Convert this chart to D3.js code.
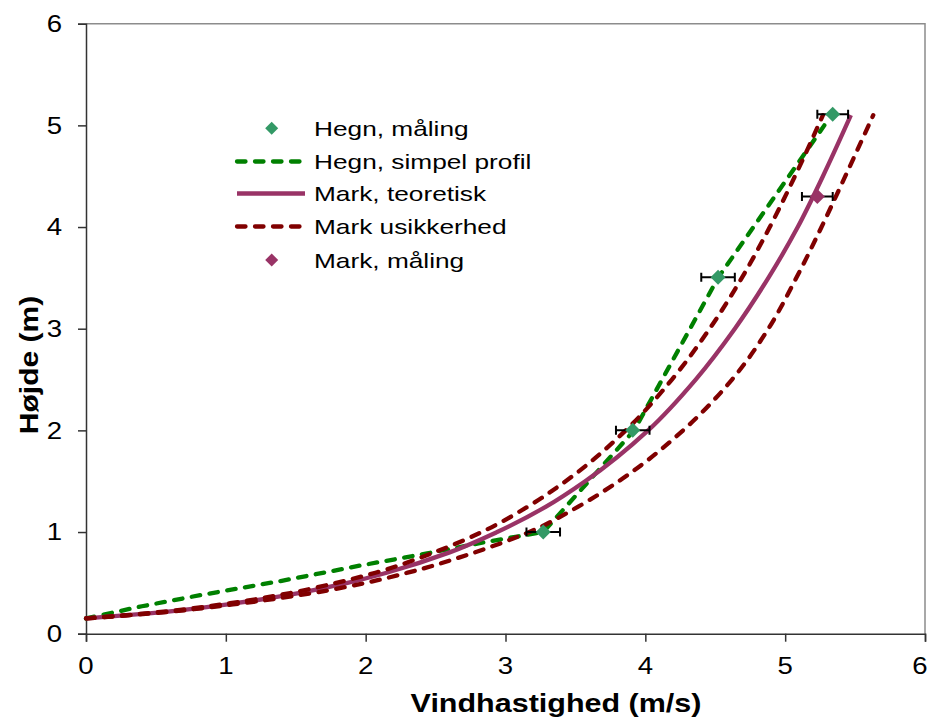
<!DOCTYPE html>
<html><head><meta charset="utf-8">
<script src="https://cdn.jsdelivr.net/npm/d3@7/dist/d3.min.js"></script>
<style>body{margin:0;background:#fff;} svg{display:block;font-family:"Liberation Sans",Arial,sans-serif;}</style>
</head><body>
<svg id="c" width="931" height="718"></svg>
<script>
// ---- data ----
const xTicks = [0,1,2,3,4,5,6];
const yTicks = [0,1,2,3,4,5,6];
// Hegn measurements
const hegnU = [3.27, 3.91, 4.52, 5.34];
const hegnZ = [1.0, 2.0, 3.505, 5.11];
const hegnErr = [0.12, 0.12, 0.12, 0.11];
// Mark measurement
const markU = [5.23];
const markZ = [4.30];
const markErr = [0.11];
// Hegn simple profile
const profZ = [0.15,0.27,0.38,0.52,0.67,0.79,0.905,1.0,2.0,3.5,5.0];
const profU = [0,0.40,0.82,1.40,1.96,2.44,2.87,3.27,3.92,4.52,5.28];
// Mark theoretical and uncertainty band
const modelZ  = [0.15,0.2,0.3,0.4,0.5,0.6,0.8,1.0,1.25,1.5,2.0,2.5,3.0,3.5,4.0,4.5,5.1];
const theoU   = [0,0.45,1.07,1.52,1.87,2.15,2.60,2.94,3.29,3.57,4.02,4.36,4.64,4.88,5.09,5.27,5.47];
const upperU  = [0,0.43,1.03,1.46,1.79,2.07,2.49,2.83,3.16,3.43,3.86,4.19,4.46,4.69,4.89,5.07,5.27];
const lowerU  = [0,0.47,1.12,1.62,2.00,2.30,2.78,3.17,3.52,3.81,4.27,4.62,4.88,5.08,5.26,5.43,5.63];
const legendLabels = ["Hegn, måling","Hegn, simpel profil","Mark, teoretisk","Mark usikkerhed","Mark, måling"];

const C = {green:"#008000", hegnPt:"#339966", purple:"#993366", red:"#800000"};
const svg = d3.select("#c");
const L=86, R=925, T=23.7, B=633.7;
const x = d3.scaleLinear().domain([0,6]).range([L,R]);
const y = d3.scaleLinear().domain([0,6]).range([B,T]);

function txt(g, s, px, py, size, anchor, bold, rot, sx){
  const t = g.append("text").text(s)
    .attr("transform", `translate(${px},${py})` + (rot?` rotate(${rot})`:"") + ` scale(${sx||1.2},1)`)
    .attr("font-size", size).attr("text-anchor", anchor||"start").attr("fill","#000");
  if(bold) t.attr("font-weight","bold");
  return t;
}

// plot border (top/right)
svg.append("path").attr("d",`M${L},${T}H${R}V${B}`).attr("fill","none").attr("stroke","#8c8c8c").attr("stroke-width",1.5);

// axes
const gx = svg.append("g").attr("transform",`translate(0,${B})`)
  .call(d3.axisBottom(x).tickValues(xTicks).tickSize(8).tickFormat(""));
const gy = svg.append("g").attr("transform",`translate(${L},0)`)
  .call(d3.axisLeft(y).tickValues(yTicks).tickSize(8).tickFormat(""));
[gx,gy].forEach(g=>{g.select(".domain").attr("stroke","#333").attr("stroke-width",1.5);
  g.selectAll(".tick line").attr("stroke","#333").attr("stroke-width",1.5);});
xTicks.forEach(v=>txt(svg, d3.format("d")(v), Math.min(x(v), 920), 674, 23, "middle"));
yTicks.forEach(v=>txt(svg, d3.format("d")(v), 62, y(v)+8.3, 23, "end"));

txt(svg, "Vindhastighed (m/s)", 556, 712, 25, "middle", true, 0, 1.22);
txt(svg, "Højde (m)", 38, 365, 25, "middle", true, -90);

// lines
const lines = svg.append("g");
function curve(us, zs, color, dashed, ctype){
  const pts = us.map((u,i)=>[u,zs[i]]);
  const line = d3.line().x(d=>x(d[0])).y(d=>y(d[1])).curve(ctype||d3.curveMonotoneY);
  const p = lines.append("path").attr("d",line(pts)).attr("fill","none").attr("stroke",color)
    .attr("stroke-width", 4.3);
  if(dashed) p.attr("stroke-dasharray","8.5,9.5").attr("stroke-linecap","round");
  return p;
}
curve(profU, profZ, C.green, true, d3.curveLinear);
curve(theoU, modelZ, C.purple, false);
curve(upperU, modelZ, C.red, true);
curve(lowerU, modelZ, C.red, true);

const diamond = r=>`M0,${-r}L${r},0L0,${r}L${-r},0Z`;
function points(us, zs, errs, color){
  const g = svg.append("g");
  us.forEach((u,i)=>{
    const cy=y(zs[i]), x0=x(u-errs[i]), x1=x(u+errs[i]);
    g.append("path").attr("d",`M${x0},${cy}H${x1}M${x0},${cy-4.5}V${cy+4.5}M${x1},${cy-4.5}V${cy+4.5}`)
      .attr("stroke","#000").attr("stroke-width",2).attr("fill","none");
  });
  us.forEach((u,i)=>{
    g.append("path").attr("d",diamond(7.5)).attr("transform",`translate(${x(u)},${y(zs[i])})`).attr("fill",color);
  });
}
points(hegnU, hegnZ, hegnErr, C.hegnPt);
points(markU, markZ, markErr, C.purple);

// legend
const lg = svg.append("g");
const ly = [128.3, 161.5, 193.5, 226.5, 260];
const types = ["pt","dash","solid","dash","pt"];
const cols = [C.hegnPt, C.green, C.purple, C.red, C.purple];
legendLabels.forEach((s,i)=>{
  if(types[i]==="pt"){
    lg.append("path").attr("d",diamond(6.5)).attr("transform",`translate(271.7,${ly[i]})`).attr("fill",cols[i]);
  } else {
    const p = lg.append("line").attr("x1",237).attr("x2",305).attr("y1",ly[i]).attr("y2",ly[i])
      .attr("stroke",cols[i]).attr("stroke-width",4.3);
    if(types[i]==="dash") p.attr("stroke-dasharray","8.5,9.5").attr("stroke-linecap","round");
  }
  txt(lg, s, 314, ly[i]+7.5, 21, "start", false, 0, 1.25);
});
</script>
</body></html>
